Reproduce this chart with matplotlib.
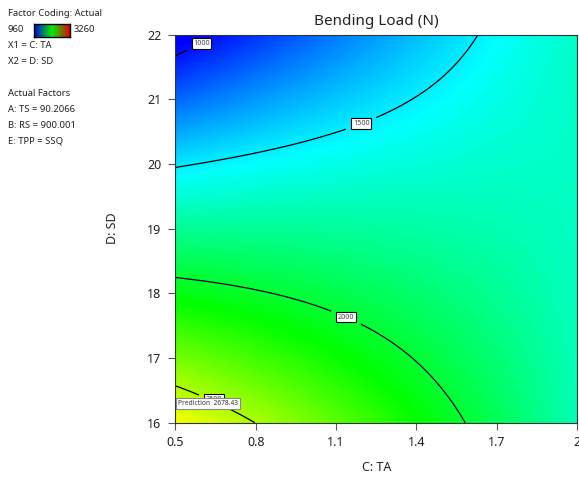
import numpy as np
import matplotlib
matplotlib.use("Agg")
import matplotlib.pyplot as plt
from matplotlib.colors import LinearSegmentedColormap

plt.rcParams['font.family'] = ['Noto Sans', 'DejaVu Sans']

# Fitted quadratic response for Bending Load (N) in actual units of C: TA and D: SD
coef_intercept = 9677.6808
coef_C = -3574.2232
coef_D = -443.6667
coef_CD = 191.3038
coef_C2 = -51.6538
coef_D2 = 1.4169

c_range = [0.5, 2.0]
d_range = [16.0, 22.0]
x_ticks = [0.5, 0.8, 1.1, 1.4, 1.7, 2.0]
x_tick_labels = ["0.5", "0.8", "1.1", "1.4", "1.7", "2"]
y_ticks = [16, 17, 18, 19, 20, 21, 22]
contour_levels = [1000, 1500, 2000, 2500]
label_spots = [(0.592, 21.91), (1.193, 20.63), (1.141, 17.66), (0.64, 16.29)]
color_min, color_max = 960, 3260
prediction_point = (0.5, 16.0)
prediction_value = 2678.43

legend_lines = [
    ("Factor Coding: Actual", 13, "normal"),
    ("X1 = C: TA", 46, "normal"),
    ("X2 = D: SD", 62, "normal"),
    ("Actual Factors", 93, "bold"),
    ("A: TS = 90.2066", 109, "normal"),
    ("B: RS = 900.001", 125, "normal"),
    ("E: TPP = SSQ", 141, "normal"),
]


def response(c, d):
    return (coef_intercept + coef_C * c + coef_D * d + coef_CD * c * d
            + coef_C2 * c * c + coef_D2 * d * d)


cmap = LinearSegmentedColormap.from_list(
    "de_rainbow", ["#0000ff", "#00ffff", "#00ff00", "#ffff00", "#ff0000"])
legend_cmap = LinearSegmentedColormap.from_list(
    "de_key", ["#0000e0", "#00f000", "#e00000"])

W, H = 579, 479
fig = plt.figure(figsize=(W / 100, H / 100), dpi=100)

ax = fig.add_axes([175.4 / W, 1 - 422.7 / H, (577 - 175.4) / W, (422.7 - 34.5) / H])
cg = np.linspace(c_range[0], c_range[1], 400)
dg = np.linspace(d_range[0], d_range[1], 400)
CC, DD = np.meshgrid(cg, dg)
ZZ = response(CC, DD)
ax.imshow(ZZ, origin="lower", extent=[*c_range, *d_range], aspect="auto",
          cmap=cmap, vmin=color_min, vmax=color_max, interpolation="bilinear")
cs = ax.contour(CC, DD, ZZ, levels=contour_levels, colors="black", linewidths=0.9)
labels = ax.clabel(cs, fmt="%d", fontsize=5.2, inline=True, inline_spacing=8,
                   manual=label_spots, colors="#444444")
for t in labels:
    t.set_bbox(dict(facecolor="white", edgecolor="black", linewidth=0.8, pad=1.2))
    t.set_rotation(0)
    if t.get_text() == "2500":
        t.set_position((0.645, 16.36))

ax.annotate(f"Prediction  {prediction_value:.2f}", xy=prediction_point,
            xytext=(1.8, 11.5), textcoords="offset points", fontsize=4.8,
            color="#333333", ha="left", va="bottom", zorder=10,
            bbox=dict(facecolor="white", edgecolor="#888888", linewidth=0.8, pad=1.6))

ax.set_xlim(*c_range)
ax.set_ylim(*d_range)
ax.set_xticks(x_ticks)
ax.set_xticklabels(x_tick_labels)
ax.set_yticks(y_ticks)
ax.tick_params(direction="out", length=5, width=0.8, color="#555555",
               labelsize=9, labelcolor="#222222")
ax.tick_params(axis="x", pad=4.5)
ax.tick_params(axis="y", pad=5)
for s in ax.spines.values():
    s.set_color("#333333")
    s.set_linewidth(0.8)

ax.set_title("Bending Load (N)", fontsize=11, color="#222222", pad=7)
ax.set_xlabel("C: TA", fontsize=9, color="#222222", labelpad=9)
ax.set_ylabel("D: SD", fontsize=9, color="#222222", labelpad=20)

for txt, ypx, weight in legend_lines:
    fig.text(8 / W, 1 - ypx / H, txt, fontsize=6.8, fontweight=weight,
             color="#222222", ha="left", va="center")
fig.text(8 / W, 1 - 30 / H, str(color_min), fontsize=6.8, color="#222222",
         ha="left", va="center")
fig.text(74 / W, 1 - 30 / H, str(color_max), fontsize=6.8, color="#222222",
         ha="left", va="center")
cax = fig.add_axes([34 / W, 1 - 37 / H, 36 / W, 13 / H])
cax.imshow(np.linspace(0, 1, 256)[None, :], aspect="auto", cmap=legend_cmap)
cax.set_xticks([])
cax.set_yticks([])
for s in cax.spines.values():
    s.set_color("black")
    s.set_linewidth(1.0)

fig.savefig("out.png", dpi=100)
